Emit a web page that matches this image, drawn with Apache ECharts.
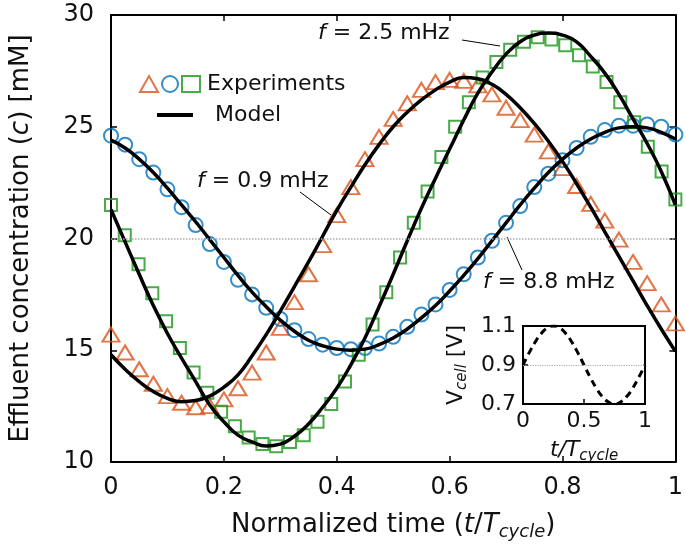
<!DOCTYPE html>
<html><head><meta charset="utf-8">
<script src="https://cdn.jsdelivr.net/npm/echarts@6/dist/echarts.min.js"></script>
<style>html,body{margin:0;padding:0;background:#fff}#c{width:686px;height:546px}</style>
</head><body><div id="c"></div>
<script>
// ---- data ----
const tGrid40 = [0,0.025,0.05,0.075,0.1,0.125,0.15,0.175,0.2,0.225,0.25,0.275,0.3,0.325,0.35,0.375,0.4,0.425,0.45,0.475,0.5,0.525,0.55,0.575,0.6,0.625,0.65,0.675,0.7,0.725,0.75,0.775,0.8,0.825,0.85,0.875,0.9,0.925,0.95,0.975,1];
const tGrid41 = [0,0.0244,0.0488,0.0732,0.0976,0.1220,0.1463,0.1707,0.1951,0.2195,0.2439,0.2683,0.2927,0.3171,0.3415,0.3659,0.3902,0.4146,0.4390,0.4634,0.4878,0.5122,0.5366,0.5610,0.5854,0.6098,0.6341,0.6585,0.6829,0.7073,0.7317,0.7561,0.7805,0.8049,0.8293,0.8537,0.8780,0.9024,0.9268,0.9512,0.9756,1];
// experiments
const exp09 = [15.7,14.9,14.15,13.5,12.95,12.65,12.45,12.5,12.8,13.3,14.0,14.9,16.0,17.15,18.4,19.7,21.05,22.3,23.55,24.55,25.35,26.05,26.65,27.0,27.1,27.05,26.85,26.45,25.85,25.3,24.65,23.9,23.15,22.35,21.55,20.8,19.95,18.95,18.0,17.05,16.2];
const exp88 = [24.6,24.2,23.55,22.95,22.2,21.4,20.6,19.75,18.95,18.15,17.5,16.9,16.4,15.9,15.5,15.25,15.1,15.05,15.1,15.3,15.6,16.05,16.6,17.05,17.7,18.4,19.15,19.9,20.7,21.45,22.3,22.9,23.5,24.05,24.55,24.85,25.05,25.05,25.1,25.0,24.65];
const exp25 = [21.5,20.15,18.85,17.55,16.3,15.1,14.0,13.1,12.25,11.6,11.1,10.8,10.7,10.9,11.2,11.8,12.6,13.6,14.8,16.15,17.6,19.15,20.7,22.1,23.65,25.0,26.1,27.2,27.9,28.45,28.8,29.0,28.9,28.65,28.2,27.7,27.0,26.1,25.2,24.1,23.0,21.75];
// model
const model09 = [14.8,14.15,13.6,13.15,12.85,12.7,12.75,12.95,13.35,13.9,14.75,15.7,16.75,17.85,18.95,20.1,21.25,22.3,23.3,24.2,25.0,25.65,26.2,26.65,27.0,27.2,27.15,26.9,26.45,25.85,25.15,24.35,23.45,22.45,21.4,20.3,19.2,18.1,17.0,15.95,14.95];
const model88 = [24.4,24.05,23.55,22.95,22.25,21.5,20.75,19.95,19.15,18.35,17.6,16.95,16.35,15.85,15.45,15.2,15.05,15.0,15.05,15.25,15.55,15.95,16.45,17.0,17.65,18.35,19.1,19.9,20.7,21.5,22.25,22.95,23.55,24.05,24.45,24.75,24.95,25.0,24.95,24.75,24.45];
const model25 = [21.3,19.85,18.4,17.0,15.75,14.65,13.6,12.55,11.8,11.2,10.9,10.72,10.8,11.15,11.7,12.45,13.3,14.35,15.55,16.95,18.4,19.9,21.35,22.7,24.0,25.3,26.5,27.45,28.25,28.8,29.1,29.2,29.1,28.8,28.15,27.4,26.45,25.35,24.25,23.0,21.5];
// inset
const insetT = [0,0.05,0.1,0.15,0.2,0.25,0.3,0.35,0.4,0.45,0.5,0.55,0.6,0.65,0.7,0.75,0.8,0.85,0.9,0.95,1];
const insetV = [0.9,0.962,1.018,1.062,1.09,1.1,1.09,1.062,1.018,0.962,0.9,0.838,0.782,0.738,0.71,0.7,0.71,0.738,0.782,0.838,0.9];
// ticks
const xTicks = [0,0.2,0.4,0.6,0.8,1];
const yTicks = [10,15,20,25,30];
const insetXTicks = [0,0.5,1];
const insetYTicks = [0.7,0.9,1.1];

// ---- chart ----
const FONT = 'DejaVu Sans';
const TXT = '#111';
const pairs = (xs, ys) => xs.map((x, i) => [x, ys[i]]);
const chart = echarts.init(document.getElementById('c'));

const axisLineMain = {onZero:false, lineStyle:{color:'#000', width:2}};
const tickIn = {inside:true, length:6, lineStyle:{color:'#000', width:1.5}};

const richTxt = (fs) => ({
  n:{fontSize:fs, fontFamily:FONT, color:TXT, lineHeight:fs+5},
  i:{fontSize:fs, fontFamily:FONT, color:TXT, fontStyle:'italic', lineHeight:fs+5},
  s:{fontSize:Math.round(fs*0.68), fontFamily:FONT, color:TXT, fontStyle:'italic', lineHeight:Math.round(fs*0.68), verticalAlign:'bottom'}
});

const option = {
  animation:false,
  backgroundColor:'#fff',
  textStyle:{fontFamily:FONT},
  grid:[
    {left:111, right:6, top:15, bottom:83},
    {left:523, top:326, width:122, height:78, show:true, backgroundColor:'#fff', borderColor:'#000', borderWidth:2}
  ],
  xAxis:[
    {gridIndex:0, type:'value', min:0, max:1, interval:0.2, position:'bottom',
     axisLine:axisLineMain, axisTick:Object.assign({customValues:xTicks}, tickIn),
     axisLabel:{fontSize:24, color:TXT, fontFamily:FONT, margin:14, customValues:xTicks},
     splitLine:{show:false},
     name:'{n|Normalized time (}{i|t}{n|/}{i|T}{s|cycle}{n|)}', nameLocation:'middle', nameGap:48,
     nameTextStyle:{fontSize:26, color:TXT, fontFamily:FONT, rich:richTxt(26)}},
    {gridIndex:0, type:'value', min:0, max:1, interval:0.2, position:'top',
     axisLine:axisLineMain, axisTick:tickIn, axisLabel:{show:false}, splitLine:{show:false}},
    {gridIndex:1, type:'value', min:0, max:1, interval:0.5, position:'bottom',
     axisLine:{onZero:false, lineStyle:{color:'#000', width:2}}, axisTick:{inside:true, length:5, lineStyle:{color:'#000', width:1.5}},
     axisLabel:{fontSize:22, color:TXT, fontFamily:FONT, margin:6, customValues:insetXTicks},
     splitLine:{show:false},
     name:'{i|t}{i|/}{i|T}{s|cycle}', nameLocation:'middle', nameGap:33,
     nameTextStyle:{fontSize:22, color:TXT, fontFamily:FONT, rich:richTxt(22)}}
  ],
  yAxis:[
    {gridIndex:0, type:'value', min:10, max:30, interval:5, position:'left',
     axisLine:axisLineMain, axisTick:Object.assign({customValues:yTicks}, tickIn),
     axisLabel:{fontSize:24, color:TXT, fontFamily:FONT, margin:17, customValues:yTicks},
     splitLine:{show:false},
     name:'{n|Effluent concentration (}{i|c}{n|) [mM]}', nameLocation:'middle', nameGap:74,
     nameTextStyle:{fontSize:26, color:TXT, fontFamily:FONT, rich:richTxt(26)}},
    {gridIndex:0, type:'value', min:10, max:30, interval:5, position:'right',
     axisLine:axisLineMain, axisTick:tickIn, axisLabel:{show:false}, splitLine:{show:false}},
    {gridIndex:1, type:'value', min:0.7, max:1.1, position:'left',
     axisLine:{onZero:false, lineStyle:{color:'#000', width:2}},
     axisTick:{inside:true, length:5, customValues:insetYTicks, lineStyle:{color:'#000', width:1.5}},
     axisLabel:{fontSize:22, color:TXT, fontFamily:FONT, margin:7, customValues:insetYTicks},
     splitLine:{show:false},
     name:'{n|V}{s|cell}{n| [V]}', nameLocation:'middle', nameGap:53,
     nameTextStyle:{fontSize:22, color:TXT, fontFamily:FONT, rich:richTxt(22)}}
  ],
  legend:[
    {data:['Experiments 0.9','Experiments 8.8','Experiments 2.5'], left:134, top:68,
     itemWidth:18, itemHeight:16, itemGap:2, selectedMode:false,
     formatter:(n) => n === 'Experiments 2.5' ? 'Experiments' : '',
     textStyle:{fontSize:22, color:TXT, fontFamily:FONT, padding:[0,0,0,2]}},
    {data:['Model'], left:152, top:99, itemWidth:36, itemHeight:4, icon:'rect', selectedMode:false,
     textStyle:{fontSize:22, color:TXT, fontFamily:FONT, padding:[0,0,0,17]}}
  ],
  graphic:[
    {type:'text', x:197, y:181, style:{text:'{i|f} = 0.9 mHz', fontSize:22, fontFamily:FONT, fill:TXT, verticalAlign:'middle',
      rich:{i:{fontStyle:'italic', fontSize:22, fontFamily:FONT, fill:TXT}}}},
    {type:'line', shape:{x1:300, y1:192, x2:331, y2:215}, style:{stroke:'#000', lineWidth:1}},
    {type:'text', x:318, y:33, style:{text:'{i|f} = 2.5 mHz', fontSize:22, fontFamily:FONT, fill:TXT, verticalAlign:'middle',
      rich:{i:{fontStyle:'italic', fontSize:22, fontFamily:FONT, fill:TXT}}}},
    {type:'line', shape:{x1:462, y1:40, x2:500, y2:46}, style:{stroke:'#000', lineWidth:1}},
    {type:'text', x:483, y:282, style:{text:'{i|f} = 8.8 mHz', fontSize:22, fontFamily:FONT, fill:TXT, verticalAlign:'middle',
      rich:{i:{fontStyle:'italic', fontSize:22, fontFamily:FONT, fill:TXT}}}},
    {type:'line', shape:{x1:507, y1:237, x2:522, y2:270}, style:{stroke:'#000', lineWidth:1}}
  ],
  series:[
    {name:'Experiments 0.9', type:'scatter', xAxisIndex:0, yAxisIndex:0, data:pairs(tGrid40, exp09),
     symbol:'triangle', symbolSize:[17,14], z:2,
     itemStyle:{color:'rgba(255,255,255,0)', borderColor:'#D95319', borderWidth:2},
     markLine:{silent:true, symbol:'none', label:{show:false}, animation:false,
       lineStyle:{type:'dotted', color:'#aaa', width:1.5}, data:[{yAxis:20}]}},
    {name:'Experiments 8.8', type:'scatter', xAxisIndex:0, yAxisIndex:0, data:pairs(tGrid40, exp88),
     symbol:'circle', symbolSize:14, z:2,
     itemStyle:{color:'rgba(255,255,255,0)', borderColor:'#0072BD', borderWidth:2}},
    {name:'Experiments 2.5', type:'scatter', xAxisIndex:0, yAxisIndex:0, data:pairs(tGrid41, exp25),
     symbol:'rect', symbolSize:12, z:2,
     itemStyle:{color:'rgba(255,255,255,0)', borderColor:'#1A961A', borderWidth:2}},
    {name:'Model', type:'line', xAxisIndex:0, yAxisIndex:0, data:pairs(tGrid40, model09), smooth:true,
     showSymbol:false, z:3, itemStyle:{color:'#000'}, lineStyle:{color:'#000', width:3.5}},
    {name:'Model', type:'line', xAxisIndex:0, yAxisIndex:0, data:pairs(tGrid40, model88), smooth:true,
     showSymbol:false, z:3, itemStyle:{color:'#000'}, lineStyle:{color:'#000', width:3.5}},
    {name:'Model', type:'line', xAxisIndex:0, yAxisIndex:0, data:pairs(tGrid40, model25), smooth:true,
     showSymbol:false, z:3, itemStyle:{color:'#000'}, lineStyle:{color:'#000', width:3.5}},
    {name:'Vcell', type:'line', xAxisIndex:2, yAxisIndex:2, data:pairs(insetT, insetV), smooth:true,
     showSymbol:false, z:4, lineStyle:{color:'#000', width:3, type:[7,5]},
     markLine:{silent:true, symbol:'none', label:{show:false}, animation:false,
       lineStyle:{type:'dotted', color:'#aaa', width:1.2}, data:[{yAxis:0.9}]}}
  ]
};
chart.setOption(option);
</script>
</body></html>
